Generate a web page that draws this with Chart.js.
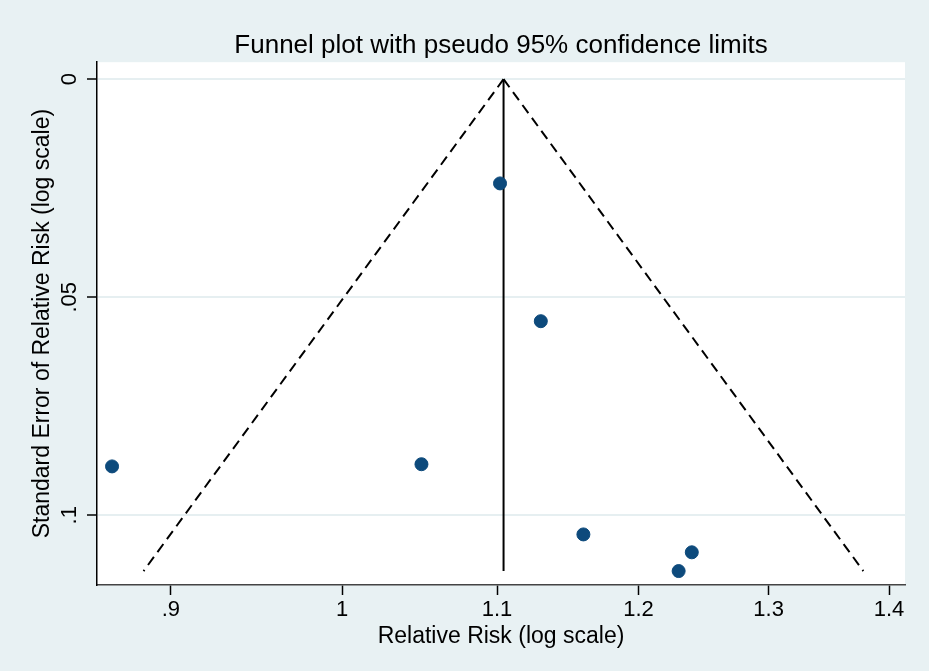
<!DOCTYPE html>
<html>
<head>
<meta charset="utf-8">
<script src="https://cdn.jsdelivr.net/npm/chart.js@4.4.1/dist/chart.umd.min.js"></script>
<style>
  html, body { margin: 0; padding: 0; background: #e8f1f3; }
  canvas { display: block; }
</style>
</head>
<body>
<canvas id="funnel" width="929" height="671"></canvas>
<script>
// Estudios: riesgo relativo y error estandar
const studyRR = [0.868, 1.050, 1.102, 1.130, 1.160, 1.240, 1.230];
const studySE = [0.0888, 0.0883, 0.0239, 0.0555, 0.1044, 0.1085, 0.1128];

// Estimacion combinada y limites del embudo
const pooledRR = 1.1044;
const maxSE = 0.1128;
const funnelLow = 0.885;
const funnelHigh = 1.378;

// Etiquetas de los ejes
const xTicks = [0.9, 1, 1.1, 1.2, 1.3, 1.4];
const xTickLabels = ['.9', '1', '1.1', '1.2', '1.3', '1.4'];
const yTicks = [0, 0.05, 0.1];
const yTickLabels = ['0', '.05', '.1'];

const FONT = 'Liberation Sans, Arial, sans-serif';

// Fondo exterior azul claro y area de trazado blanca
const bgPlugin = {
    id: 'bg',
    beforeDraw(chart) {
        const { ctx, chartArea: a } = chart;
        ctx.save();
        ctx.fillStyle = '#e8f1f3';
        ctx.fillRect(0, 0, chart.width, chart.height);
        ctx.fillStyle = '#ffffff';
        ctx.fillRect(a.left, a.top, a.right - a.left, a.bottom - a.top);
        ctx.restore();
    }
};

new Chart(document.getElementById('funnel'), {
    type: 'scatter',
    data: {
        datasets: [
            {
                label: 'Estudios',
                data: studyRR.map((rr, i) => ({ x: rr, y: studySE[i] })),
                backgroundColor: '#0d4a7c',
                borderColor: '#0d4a7c',
                pointRadius: 6.5,
                order: 0
            },
            {
                label: 'Limite inferior',
                type: 'line',
                data: [{ x: pooledRR, y: 0 }, { x: funnelLow, y: maxSE }],
                borderColor: '#000',
                borderWidth: 2,
                borderDash: [10, 6],
                pointRadius: 0,
                fill: false,
                order: 1
            },
            {
                label: 'Limite superior',
                type: 'line',
                data: [{ x: pooledRR, y: 0 }, { x: funnelHigh, y: maxSE }],
                borderColor: '#000',
                borderWidth: 2,
                borderDash: [10, 6],
                pointRadius: 0,
                fill: false,
                order: 1
            },
            {
                label: 'Combinado',
                type: 'line',
                data: [{ x: pooledRR, y: 0 }, { x: pooledRR, y: maxSE }],
                borderColor: '#000',
                borderWidth: 2,
                pointRadius: 0,
                fill: false,
                order: 1
            }
        ]
    },
    options: {
        responsive: false,
        animation: false,
        devicePixelRatio: 1,
        layout: { padding: { left: 0, right: 24, top: 0, bottom: 21 } },
        plugins: {
            legend: { display: false },
            tooltip: { enabled: false },
            title: {
                display: true,
                text: 'Funnel plot with pseudo 95% confidence limits',
                color: '#000',
                fullSize: false,
                font: { family: FONT, size: 26, weight: 'normal', lineHeight: 1.2 },
                padding: { top: 30, bottom: 1 }
            }
        },
        scales: {
            x: {
                type: 'logarithmic',
                position: 'bottom',
                min: 0.8617,
                max: 1.4138,
                afterBuildTicks(scale) {
                    scale.ticks = xTicks.map(v => ({ value: v }));
                },
                afterFit(scale) {
                    scale.height = 65;
                },
                ticks: {
                    color: '#000',
                    font: { family: FONT, size: 22 },
                    padding: 2,
                    maxRotation: 0,
                    autoSkip: false,
                    callback: (v) => {
                        const i = xTicks.findIndex(t => Math.abs(t - v) < 1e-9);
                        return i >= 0 ? xTickLabels[i] : '';
                    }
                },
                grid: {
                    drawOnChartArea: false,
                    drawTicks: true,
                    tickLength: 10,
                    tickColor: '#000',
                    tickWidth: 1.5
                },
                border: { display: true, color: '#444', width: 1.5 },
                title: {
                    display: true,
                    text: 'Relative Risk (log scale)',
                    color: '#000',
                    font: { family: FONT, size: 23, lineHeight: 1.2 },
                    padding: { top: 0, bottom: 0 }
                }
            },
            y: {
                type: 'linear',
                reverse: true,
                min: -0.0039,
                max: 0.116,
                afterBuildTicks(scale) {
                    scale.ticks = yTicks.map(v => ({ value: v }));
                },
                afterFit(scale) {
                    scale.width = 97;
                },
                ticks: {
                    color: '#000',
                    font: { family: FONT, size: 22 },
                    minRotation: 90,
                    maxRotation: 90,
                    crossAlign: 'center',
                    padding: 2,
                    autoSkip: false,
                    callback: (v) => {
                        const i = yTicks.findIndex(t => Math.abs(t - v) < 1e-9);
                        return i >= 0 ? yTickLabels[i] : '';
                    }
                },
                grid: {
                    color: '#e6eff1',
                    lineWidth: 2,
                    drawTicks: true,
                    tickLength: 10,
                    tickColor: '#000',
                    tickWidth: 1.5
                },
                border: { display: true, color: '#000', width: 1.5 },
                title: {
                    display: true,
                    text: 'Standard Error of Relative Risk (log scale)',
                    color: '#000',
                    font: { family: FONT, size: 23, lineHeight: 1.2 },
                    padding: { top: 29, bottom: 0 }
                }
            }
        }
    },
    plugins: [bgPlugin]
});
</script>
</body>
</html>
